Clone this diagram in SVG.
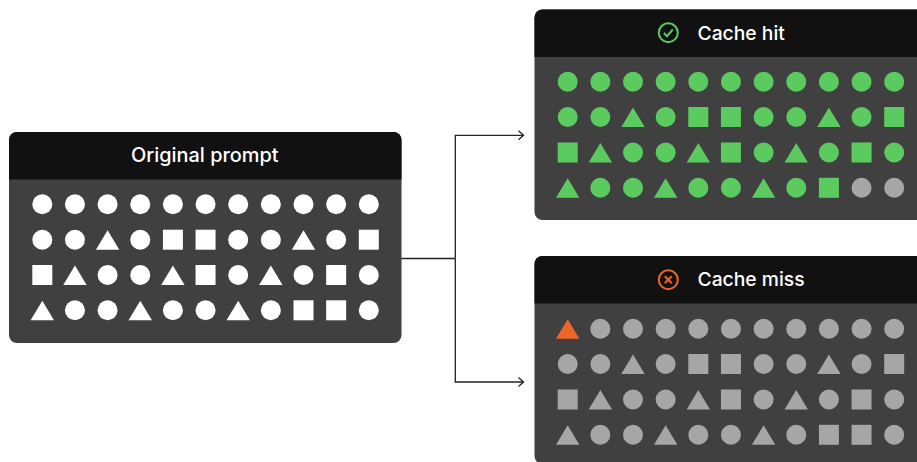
<svg xmlns="http://www.w3.org/2000/svg" width="917" height="462" viewBox="0 0 917 462">
<style>
.panel{fill:#404040}
.head{fill:#111111}
.title{font-family:"Inter","Liberation Sans",sans-serif;font-size:19.3px;font-weight:500;fill:#ffffff}
.big{font-size:19.9px}
.w{fill:#ffffff}
.g{fill:#5ccb5f}
.n{fill:#a6a6a6}
.o{fill:#ee6528}
.wire{fill:none;stroke:#222222;stroke-width:1.3}
</style>
<defs>
<circle id="c" r="10"/>
<rect id="s" x="-10" y="-10" width="20" height="20"/>
<polygon id="t" points="0,-9.5 11.700,10 -11.700,10"/>
<marker id="arrow" markerWidth="10" markerHeight="12" refX="6.500" refY="6" orient="auto" markerUnits="userSpaceOnUse">
<path d="M1.500,1.500 L6.500,6 L1.500,10.500" fill="none" stroke="#222222" stroke-width="1.300"/>
</marker>
<g id="r1">
<use href="#c" x="0"/><use href="#c" x="32.650"/><use href="#c" x="65.300"/><use href="#c" x="97.950"/><use href="#c" x="130.600"/><use href="#c" x="163.250"/><use href="#c" x="195.900"/><use href="#c" x="228.550"/><use href="#c" x="261.200"/><use href="#c" x="293.850"/><use href="#c" x="326.500"/>
</g>
<g id="r2">
<use href="#c" x="0"/><use href="#c" x="32.650"/><use href="#t" x="65.300"/><use href="#c" x="97.950"/><use href="#s" x="130.600"/><use href="#s" x="163.250"/><use href="#c" x="195.900"/><use href="#c" x="228.550"/><use href="#t" x="261.200"/><use href="#c" x="293.850"/><use href="#s" x="326.500"/>
</g>
<g id="r3">
<use href="#s" x="0"/><use href="#t" x="32.650"/><use href="#c" x="65.300"/><use href="#c" x="97.950"/><use href="#t" x="130.600"/><use href="#s" x="163.250"/><use href="#c" x="195.900"/><use href="#t" x="228.550"/><use href="#c" x="261.200"/><use href="#s" x="293.850"/><use href="#c" x="326.500"/>
</g>
<g id="r4a">
<use href="#t" x="0"/><use href="#c" x="32.650"/><use href="#c" x="65.300"/><use href="#t" x="97.950"/><use href="#c" x="130.600"/><use href="#c" x="163.250"/><use href="#t" x="195.900"/><use href="#c" x="228.550"/><use href="#s" x="261.200"/>
</g>
<g id="r4">
<use href="#r4a"/><use href="#s" x="293.850"/><use href="#c" x="326.500"/>
</g>
</defs>
<rect width="917" height="462" fill="#ffffff"/>
<g id="connectors">
<path class="wire" d="M401 258.500 H455.300"/>
<path class="wire" d="M455.300 258.500 V135.300 H523.500" marker-end="url(#arrow)"/>
<path class="wire" d="M455.300 258.500 V382 H523.500" marker-end="url(#arrow)"/>
</g>
<g id="original-prompt">
<rect class="panel" x="9" y="132" width="392.500" height="211" rx="8"/>
<path class="head" d="M9 179.500 V140 a8 8 0 0 1 8 -8 H393.500 a8 8 0 0 1 8 8 V179.500 Z"/>
<text class="title big" x="204.800" y="161.700" text-anchor="middle">Original prompt</text>
<g class="w">
<use href="#r1" x="42.300" y="204.300"/>
<use href="#r2" x="42.300" y="239.700"/>
<use href="#r3" x="42.300" y="275"/>
<use href="#r4" x="42.300" y="310.300"/>
</g>
</g>
<g id="cache-hit">
<path class="panel" d="M542.500 9.500 H917 V220 H542.500 a8 8 0 0 1 -8 -8 V17.500 a8 8 0 0 1 8 -8 Z"/>
<path class="head" d="M534.500 57 V17.500 a8 8 0 0 1 8 -8 H917 V57 Z"/>
<circle cx="668.300" cy="32.700" r="9.500" fill="none" stroke="#5ccb5f" stroke-width="2"/>
<path d="M663.800 33 L667 36.200 L672.800 29.500" fill="none" stroke="#5ccb5f" stroke-width="2"/>
<text class="title" x="697.500" y="39.500">Cache hit</text>
<g class="g">
<use href="#r1" x="567.700" y="81.700"/>
<use href="#r2" x="567.700" y="117"/>
<use href="#r3" x="567.700" y="152.500"/>
<use href="#r4a" x="567.700" y="187.800"/>
</g>
<g class="n">
<use href="#c" x="861.550" y="187.800"/>
<use href="#c" x="894.200" y="187.800"/>
</g>
</g>
<g id="cache-miss">
<path class="panel" d="M542.500 256 H917 V464 H542.500 a8 8 0 0 1 -8 -8 V264 a8 8 0 0 1 8 -8 Z"/>
<path class="head" d="M534.500 303.500 V264 a8 8 0 0 1 8 -8 H917 V303.500 Z"/>
<circle cx="668.300" cy="279.700" r="9.500" fill="none" stroke="#ee6528" stroke-width="2"/>
<path d="M664.800 276.200 L671.800 283.200 M671.800 276.200 L664.800 283.200" fill="none" stroke="#ee6528" stroke-width="2"/>
<text class="title" x="697.500" y="286">Cache miss</text>
<use class="o" href="#t" x="567.700" y="328.700"/>
<g class="n">
<use href="#c" x="600.350" y="328.700"/><use href="#c" x="633" y="328.700"/><use href="#c" x="665.650" y="328.700"/><use href="#c" x="698.300" y="328.700"/><use href="#c" x="730.950" y="328.700"/><use href="#c" x="763.600" y="328.700"/><use href="#c" x="796.250" y="328.700"/><use href="#c" x="828.900" y="328.700"/><use href="#c" x="861.550" y="328.700"/><use href="#c" x="894.200" y="328.700"/>
<use href="#r2" x="567.700" y="364"/>
<use href="#r3" x="567.700" y="399.500"/>
<use href="#r4" x="567.700" y="434.800"/>
</g>
</g>
</svg>
